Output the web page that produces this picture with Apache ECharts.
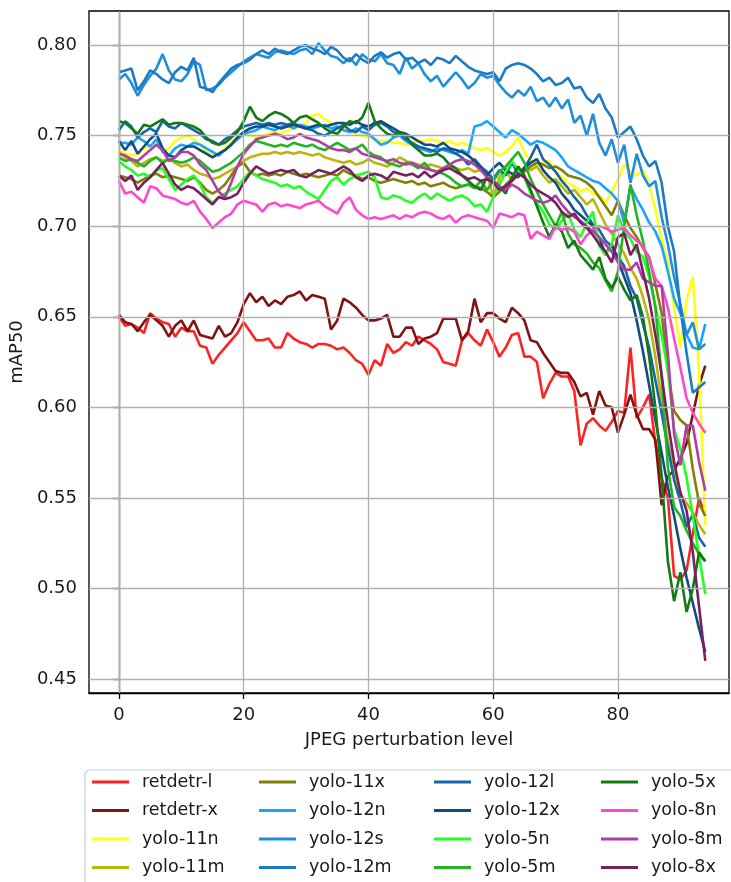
<!DOCTYPE html>
<html>
<head>
<meta charset="utf-8">
<script src="https://cdn.jsdelivr.net/npm/echarts@6/dist/echarts.min.js"></script>
<style>
  html, body { margin: 0; padding: 0; background: #fff; }
  #myChart { width: 731px; height: 882px; }
</style>
</head>
<body>
<div id="myChart"></div>
<script>
  // perturbation levels 0..94
  const levels = Array.from({ length: 95 }, (_, i) => i)
  const xTicks = [0, 20, 40, 60, 80]
  const yTicks = [0.45, 0.5, 0.55, 0.6, 0.65, 0.7, 0.75, 0.8]

  const names = ['retdetr-l', 'retdetr-x', 'yolo-11n', 'yolo-11m', 'yolo-11x', 'yolo-12n', 'yolo-12s', 'yolo-12m',
    'yolo-12l', 'yolo-12x', 'yolo-5n', 'yolo-5m', 'yolo-5x', 'yolo-8n', 'yolo-8m', 'yolo-8x']

  const retdetrL = [.650, .645, .646, .644, .641, .652, .649, .647, .646, .639,
    .644, .642, .642, .634, .633, .624, .629, .633, .637, .641,
    .647, .642, .637, .637, .638, .633, .633, .641, .638, .636,
    .635, .633, .635, .635, .634, .632, .633, .630, .626, .624,
    .618, .626, .623, .635, .630, .632, .636, .634, .639, .637,
    .635, .632, .625, .624, .623, .637, .641, .637, .634, .643,
    .636, .628, .633, .640, .641, .628, .628, .625, .605, .613,
    .619, .617, .617, .609, .579, .591, .594, .590, .587, .592,
    .598, .597, .633, .594, .600, .607, .580, .561, .550, .507,
    .505, .510, .530, .550, .540]
  const retdetrX = [.651, .647, .646, .642, .647, .651, .648, .645, .639, .645,
    .648, .642, .648, .640, .639, .638, .645, .639, .641, .647,
    .657, .663, .658, .661, .656, .659, .657, .661, .662, .664,
    .659, .662, .661, .660, .643, .648, .660, .658, .655, .651,
    .648, .648, .649, .651, .639, .639, .644, .644, .635, .638,
    .639, .641, .649, .649, .649, .637, .642, .660, .647, .652,
    .652, .649, .647, .655, .652, .648, .637, .636, .630, .625,
    .620, .619, .619, .614, .606, .608, .596, .609, .601, .600,
    .586, .596, .607, .596, .588, .588, .582, .546, .562, .565,
    .572, .580, .596, .612, .623]
  const yolo11n = [.742, .740, .739, .740, .743, .744, .746, .741, .743, .747,
    .749, .750, .748, .745, .741, .739, .740, .743, .746, .749,
    .751, .750, .749, .750, .751, .752, .751, .753, .754, .755,
    .757, .761, .762, .759, .757, .755, .754, .752, .751, .750,
    .749, .748, .747, .747, .746, .746, .745, .746, .747, .747,
    .748, .747, .746, .747, .745, .746, .745, .743, .742, .743,
    .741, .739, .741, .744, .749, .741, .736, .733, .735, .736,
    .730, .727, .724, .722, .719, .721, .718, .717, .713, .719,
    .726, .734, .730, .728, .731, .723, .709, .693, .680, .655,
    .633, .659, .672, .620, .535]
  const yolo11m = [.741, .738, .736, .733, .735, .737, .738, .736, .737, .735,
    .733, .734, .731, .729, .728, .726, .727, .729, .731, .733,
    .736, .738, .739, .740, .740, .741, .740, .741, .740, .741,
    .740, .739, .740, .738, .737, .736, .735, .736, .734, .735,
    .737, .735, .734, .733, .735, .738, .736, .735, .734, .733,
    .734, .733, .732, .733, .732, .731, .732, .730, .731, .729,
    .716, .727, .731, .725, .728, .733, .731, .733, .728, .724,
    .726, .722, .718, .720, .716, .712, .715, .708, .701, .696,
    .690, .685, .677, .671, .661, .648, .628, .603, .581, .565,
    .552, .547, .542, .535, .530]
  const yolo11x = [.728, .727, .726, .724, .726, .728, .729, .727, .728, .727,
    .726, .725, .727, .724, .720, .718, .720, .723, .728, .733,
    .735, .730, .728, .729, .728, .729, .728, .730, .729, .728,
    .729, .728, .727, .728, .729, .728, .731, .729, .728, .726,
    .727, .725, .724, .725, .726, .725, .724, .725, .723, .724,
    .722, .723, .724, .722, .721, .722, .723, .722, .721, .719,
    .716, .719, .723, .726, .728, .730, .733, .735, .734, .732,
    .733, .731, .728, .727, .726, .724, .721, .716, .711, .706,
    .714, .706, .699, .694, .688, .683, .668, .652, .620, .598,
    .593, .590, .566, .547, .540]
  const yolo12n = [.746, .746, .745, .749, .747, .744, .748, .741, .739, .743,
    .745, .744, .746, .745, .743, .741, .739, .742, .745, .748,
    .751, .752, .753, .755, .754, .753, .755, .756, .754, .756,
    .755, .754, .755, .756, .754, .755, .753, .752, .754, .752,
    .751, .748, .745, .746, .749, .750, .747, .745, .743, .742,
    .741, .743, .742, .741, .740, .742, .740, .755, .756, .758,
    .755, .752, .749, .753, .751, .748, .745, .747, .746, .744,
    .742, .738, .733, .731, .729, .727, .725, .724, .721, .718,
    .714, .702, .722, .715, .709, .702, .697, .689, .675, .660,
    .652, .640, .633, .632, .646]
  const yolo12s = [.781, .784, .779, .772, .778, .783, .787, .795, .786, .781,
    .780, .784, .791, .789, .775, .776, .778, .782, .785, .788,
    .791, .793, .795, .794, .793, .796, .797, .796, .795, .797,
    .798, .795, .801, .797, .794, .793, .790, .793, .789, .795,
    .792, .791, .795, .790, .789, .784, .793, .787, .790, .784,
    .780, .783, .777, .781, .785, .781, .776, .779, .784, .782,
    .783, .778, .774, .771, .775, .772, .777, .769, .771, .766,
    .771, .765, .770, .757, .761, .750, .762, .746, .739, .748,
    .735, .745, .724, .740, .728, .722, .725, .705, .690, .672,
    .657, .640, .647, .632, .635]
  const yolo12m = [.785, .786, .787, .775, .780, .786, .784, .781, .779, .785,
    .788, .786, .793, .777, .776, .774, .779, .783, .787, .789,
    .790, .792, .795, .797, .795, .798, .796, .795, .797, .799,
    .800, .798, .797, .795, .799, .797, .793, .791, .795, .792,
    .790, .794, .796, .793, .795, .796, .792, .793, .790, .792,
    .789, .793, .792, .790, .794, .791, .788, .786, .785, .784,
    .785, .780, .787, .789, .790, .789, .787, .784, .780, .782,
    .778, .779, .782, .776, .777, .771, .768, .773, .765, .760,
    .749, .752, .755, .748, .739, .733, .736, .724, .700, .686,
    .655, .630, .608, .611, .614]
  const yolo12l = [.753, .758, .755, .749, .752, .754, .752, .758, .755, .754,
    .757, .755, .753, .751, .748, .747, .745, .748, .750, .753,
    .755, .756, .757, .756, .757, .756, .757, .756, .757, .755,
    .754, .753, .751, .750, .752, .754, .756, .753, .752, .755,
    .753, .756, .757, .755, .752, .751, .748, .746, .744, .743,
    .742, .741, .743, .742, .740, .738, .734, .737, .733, .730,
    .726, .731, .728, .735, .729, .732, .738, .745, .737, .734,
    .730, .725, .721, .716, .712, .706, .701, .698, .692, .689,
    .683, .678, .667, .660, .646, .633, .615, .597, .578, .560,
    .548, .534, .541, .528, .523]
  const yolo12x = [.747, .742, .747, .740, .744, .748, .751, .743, .739, .738,
    .742, .744, .744, .742, .740, .738, .740, .742, .745, .749,
    .752, .754, .755, .755, .756, .755, .754, .755, .756, .755,
    .754, .755, .756, .755, .756, .757, .757, .756, .758, .756,
    .755, .757, .758, .756, .754, .752, .751, .749, .747, .745,
    .745, .744, .746, .743, .742, .741, .739, .736, .732, .728,
    .732, .735, .731, .729, .727, .732, .735, .737, .731, .727,
    .724, .718, .714, .709, .706, .703, .700, .693, .685, .690,
    .681, .672, .663, .648, .631, .612, .593, .575, .556, .540,
    .522, .506, .492, .478, .465]
  const yolo5n = [.736, .733, .731, .728, .729, .727, .731, .732, .726, .720,
    .723, .726, .728, .723, .716, .713, .716, .718, .720, .722,
    .726, .730, .728, .726, .725, .724, .722, .723, .721, .722,
    .719, .717, .715, .720, .725, .727, .723, .726, .728, .729,
    .730, .727, .716, .715, .717, .716, .714, .713, .716, .718,
    .715, .718, .716, .714, .716, .717, .715, .711, .712, .708,
    .716, .723, .730, .736, .731, .727, .718, .713, .708, .701,
    .698, .703, .707, .698, .694, .702, .708, .689, .684, .690,
    .706, .697, .693, .686, .683, .672, .656, .640, .620, .588,
    .577, .561, .540, .518, .497]
  const yolo5m = [.738, .736, .737, .735, .733, .736, .738, .735, .737, .736,
    .735, .736, .738, .736, .733, .730, .731, .733, .735, .738,
    .741, .745, .747, .746, .745, .744, .745, .744, .746, .745,
    .744, .745, .743, .742, .744, .746, .744, .742, .743, .745,
    .741, .739, .738, .735, .734, .733, .735, .734, .732, .735,
    .731, .730, .729, .727, .724, .722, .723, .721, .725, .720,
    .725, .730, .733, .737, .741, .735, .726, .719, .712, .706,
    .700, .708, .696, .690, .688, .685, .680, .677, .670, .664,
    .675, .700, .723, .706, .692, .675, .655, .617, .567, .545,
    .540, .532, .525, .519, .515]
  const yolo5x = [.758, .757, .754, .751, .756, .755, .757, .759, .756, .757,
    .757, .756, .755, .753, .749, .746, .745, .746, .749, .752,
    .758, .766, .760, .758, .761, .763, .762, .760, .757, .760,
    .761, .759, .757, .754, .752, .751, .755, .758, .757, .760,
    .768, .758, .754, .751, .750, .752, .750, .745, .742, .739,
    .739, .740, .738, .734, .732, .728, .725, .722, .720, .727,
    .725, .722, .718, .727, .733, .728, .720, .711, .702, .694,
    .701, .697, .688, .692, .684, .680, .676, .683, .671, .666,
    .672, .665, .659, .662, .650, .628, .600, .562, .515, .493,
    .509, .487, .500, .520, .515]
  const yolo8n = [.725, .718, .719, .716, .713, .722, .721, .717, .716, .715,
    .713, .712, .714, .708, .704, .699, .702, .705, .707, .712,
    .714, .713, .712, .708, .712, .713, .711, .712, .711, .710,
    .712, .713, .714, .711, .709, .707, .713, .716, .709, .706,
    .704, .705, .704, .705, .706, .704, .706, .705, .707, .708,
    .707, .705, .704, .706, .702, .705, .706, .705, .704, .703,
    .699, .707, .706, .705, .707, .706, .693, .697, .695, .693,
    .700, .698, .699, .697, .690, .695, .698, .700, .699, .697,
    .698, .699, .695, .692, .689, .682, .671, .667, .655, .638,
    .622, .605, .597, .591, .586]
  const yolo8m = [.740, .739, .737, .736, .739, .742, .745, .742, .736, .738,
    .741, .741, .739, .734, .731, .725, .719, .716, .724, .733,
    .740, .744, .748, .749, .750, .751, .750, .748, .749, .751,
    .749, .748, .747, .745, .743, .742, .742, .741, .743, .740,
    .739, .738, .737, .736, .737, .735, .734, .735, .733, .732,
    .731, .730, .732, .734, .736, .737, .736, .734, .731, .727,
    .724, .722, .720, .723, .721, .718, .716, .714, .713, .714,
    .717, .712, .708, .705, .703, .700, .697, .694, .690, .686,
    .680, .676, .676, .680, .671, .669, .667, .667, .630, .585,
    .568, .590, .590, .570, .554]
  const yolo8x = [.728, .725, .728, .720, .724, .727, .731, .735, .729, .723,
    .720, .722, .721, .718, .715, .712, .716, .715, .716, .718,
    .724, .729, .733, .731, .729, .730, .731, .730, .731, .728,
    .727, .729, .731, .730, .729, .731, .733, .731, .727, .725,
    .728, .729, .728, .726, .730, .729, .728, .729, .727, .730,
    .727, .729, .731, .732, .730, .728, .726, .727, .725, .726,
    .724, .720, .722, .725, .729, .727, .723, .720, .718, .716,
    .713, .708, .705, .707, .702, .699, .695, .690, .686, .680,
    .694, .696, .684, .690, .675, .660, .640, .618, .592, .570,
    .553, .543, .520, .490, .460]

  const values = [retdetrL, retdetrX, yolo11n, yolo11m, yolo11x, yolo12n, yolo12s, yolo12m,
    yolo12l, yolo12x, yolo5n, yolo5m, yolo5x, yolo8n, yolo8m, yolo8x]
  const colors = ['#ff2222', '#801414', '#ffff14', '#bcb50a', '#808008', '#1aa3ff', '#1f8fdc', '#1c7bc4',
    '#1866a8', '#114d7d', '#22ff22', '#23b523', '#147a14', '#ff48cc', '#b23ea4', '#782060']

  const font = 'DejaVu Sans'
  const fs = 18

  let myChart = echarts.init(document.getElementById('myChart'))

  // grid lines drawn through a dummy series so they sit under the curves
  const gridSeries = {
    name: '_grid',
    type: 'line',
    data: [],
    z: 1,
    silent: true,
    markLine: {
      silent: true,
      symbol: ['none', 'none'],
      label: { show: false },
      lineStyle: { color: '#b0b0b0', width: 1.3, type: 'solid' },
      data: xTicks.map(v => ({ xAxis: v })).concat(yTicks.map(v => ({ yAxis: v })))
    }
  }

  const lineSeries = names.map((n, k) => ({
    name: n,
    type: 'line',
    data: values[k].map((v, i) => [levels[i], v]),
    showSymbol: false,
    symbol: 'none',
    color: colors[k],
    lineStyle: { width: 2.6, color: colors[k] },
    emphasis: { disabled: true },
    z: 2
  }))

  // four legend columns, like the matplotlib ncol=4 box
  const colLeft = [92, 259, 434, 601]
  const legends = colLeft.map((left, c) => ({
    data: names.slice(c * 4, c * 4 + 4),
    orient: 'vertical',
    left: left,
    top: 773,
    padding: 0,
    itemWidth: 37,
    itemHeight: 3,
    itemGap: 10.5,
    icon: 'rect',
    selectedMode: false,
    textStyle: { fontFamily: font, fontSize: 17.5, color: '#1a1a1a', padding: [0, 0, 0, 8] }
  }))

  myChart.setOption({
    animation: false,
    backgroundColor: '#fff',
    grid: {
      left: 89,
      right: 2,
      top: 11,
      bottom: 189,
      show: true,
      borderColor: '#000',
      borderWidth: 1.3,
      backgroundColor: 'transparent'
    },
    graphic: [
      {
        type: 'rect',
        z: -1,
        shape: { x: 85, y: 770, width: 670, height: 130, r: 5 },
        style: { fill: '#fff', stroke: '#cccccc', lineWidth: 1.2 }
      }
    ],
    legend: legends,
    xAxis: {
      type: 'value',
      min: -4.8,
      max: 97.8,
      name: 'JPEG perturbation level',
      nameLocation: 'middle',
      nameGap: 38,
      nameTextStyle: { fontFamily: font, fontSize: fs, color: '#1a1a1a' },
      axisLine: { show: true, lineStyle: { color: '#000', width: 1.3 } },
      axisTick: { show: true, length: 6, customValues: xTicks, lineStyle: { color: '#000', width: 1.3 } },
      axisLabel: {
        customValues: xTicks,
        margin: 13,
        fontFamily: font,
        fontSize: fs,
        color: '#1a1a1a'
      },
      splitLine: { show: false }
    },
    yAxis: {
      type: 'value',
      min: 0.4423,
      max: 0.8188,
      name: 'mAP50',
      nameLocation: 'middle',
      nameGap: 60,
      nameTextStyle: { fontFamily: font, fontSize: fs, color: '#1a1a1a' },
      axisLine: { show: true, lineStyle: { color: '#000', width: 1.3 } },
      axisTick: { show: true, length: 6, customValues: yTicks, lineStyle: { color: '#000', width: 1.3 } },
      axisLabel: {
        customValues: yTicks,
        margin: 12,
        fontFamily: font,
        fontSize: fs,
        color: '#1a1a1a',
        formatter: v => v.toFixed(2)
      },
      splitLine: { show: false }
    },
    series: [gridSeries].concat(lineSeries)
  })
</script>
</body>
</html>
